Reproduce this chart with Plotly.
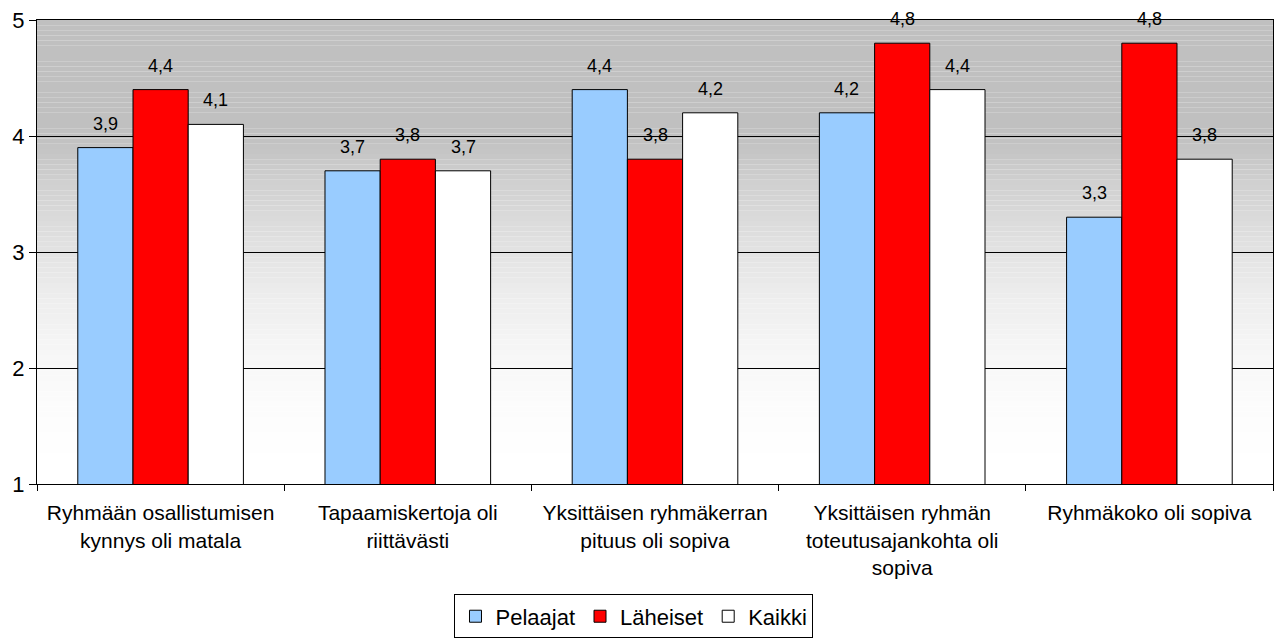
import plotly.graph_objects as go

categories = [
    "Ryhmään osallistumisen<br>kynnys oli matala",
    "Tapaamiskertoja oli<br>riittävästi",
    "Yksittäisen ryhmäkerran<br>pituus oli sopiva",
    "Yksittäisen ryhmän<br>toteutusajankohta oli<br>sopiva",
    "Ryhmäkoko oli sopiva",
]
pelaajat = [3.9, 3.7, 4.4, 4.2, 3.3]
laheiset = [4.4, 3.8, 3.8, 4.8, 4.8]
kaikki = [4.1, 3.7, 4.2, 4.4, 3.8]

series = [
    ("Pelaajat", pelaajat, "#99ccff"),
    ("Läheiset", laheiset, "#ff0000"),
    ("Kaikki", kaikki, "#ffffff"),
]

FONT = "Liberation Sans, Arial, sans-serif"
W, H = 1277, 642
ML, MR, MT, MB = 37, 4, 20, 158
BARGAP = 0.33

fig = go.Figure()
for name, vals, color in series:
    fig.add_trace(go.Bar(
        x=categories, y=vals, name=name,
        marker=dict(color=color, line=dict(color="black", width=1)),
        cliponaxis=False, hoverinfo="skip",
    ))

# value labels above bars (offset like the original)
plot_w = W - ML - MR
bar_px = plot_w / len(categories) * (1 - BARGAP) / len(series)
annotations = []
for si, (name, vals, color) in enumerate(series):
    for cat, v in zip(categories, vals):
        annotations.append(dict(
            x=cat, y=v, xref="x", yref="y",
            text=f"{v:.1f}".replace(".", ","),
            showarrow=False, xanchor="center", yanchor="bottom",
            xshift=(si - 1) * bar_px, yshift=12,
            font=dict(size=18, color="black", family=FONT),
        ))

# vertical gradient background: gray upper band, easing to white at bottom
n = 90
shapes = []
for i in range(n):
    t = i / n
    t2 = (i + 1) / n
    tm = (t + t2) / 2
    f = min(tm / 0.75, 1.0)
    g = int(round(255 - 63 * f * f))
    shapes.append(dict(
        type="rect", xref="x domain", yref="y domain",
        x0=0, x1=1, y0=t, y1=t2,
        fillcolor=f"rgb({g},{g},{g})", line=dict(width=0), layer="below",
    ))

fig.update_layout(
    width=W, height=H,
    margin=dict(l=ML, r=MR, t=MT, b=MB, autoexpand=False),
    paper_bgcolor="white",
    plot_bgcolor="white",
    barmode="group",
    bargap=BARGAP,
    bargroupgap=0,
    separators=", ",
    font=dict(family=FONT, color="black"),
    shapes=shapes,
    annotations=annotations,
    showlegend=True,
    hovermode=False,
    legend=dict(
        orientation="h", x=0.483, xanchor="center", y=-0.238, yanchor="top",
        bordercolor="black", borderwidth=1, bgcolor="white",
        font=dict(size=22, family=FONT),
        traceorder="normal",
    ),
)

fig.update_xaxes(
    showline=True, linecolor="black", linewidth=1, mirror=True,
    ticks="outside", tickson="boundaries", ticklen=6, tickcolor="black",
    tickfont=dict(size=21, family=FONT), ticklabelstandoff=10,
    showgrid=False, automargin=False,
)
fig.update_yaxes(
    range=[1, 5], tickvals=[1, 2, 3, 4, 5],
    showline=True, linecolor="black", linewidth=1, mirror=True,
    ticks="outside", ticklen=7, tickcolor="black",
    tickfont=dict(size=22, family=FONT),
    showgrid=True, gridcolor="black", gridwidth=1,
    zeroline=False, automargin=False,
)

fig.write_html(
    "out.html",
    config={"displayModeBar": False},
    post_script="document.body.style.margin='0';document.body.style.overflow='hidden';",
)
